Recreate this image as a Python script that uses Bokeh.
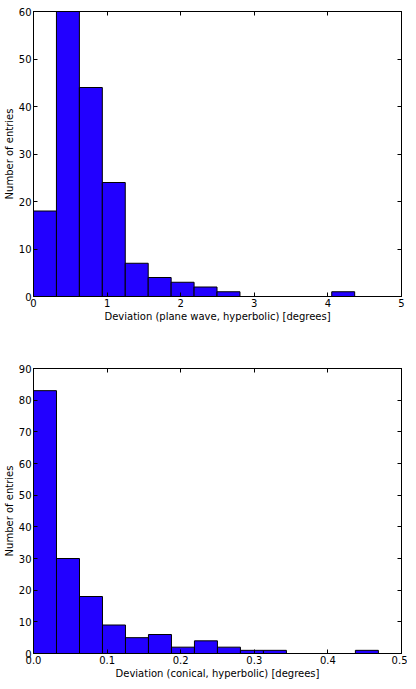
from bokeh.plotting import figure
from bokeh.layouts import column
from bokeh.models import LinearAxis, Range1d, FixedTicker, CustomJSTickFormatter
from bokeh.embed import file_html
from bokeh.resources import INLINE

# Histogram 1: Deviation (plane wave, hyperbolic)
bin_width1 = 0.3117
counts1 = [18, 60, 44, 24, 7, 4, 3, 2, 1, 0, 0, 0, 0, 1]
xticks1 = [0, 1, 2, 3, 4, 5]
yticks1 = [0, 10, 20, 30, 40, 50, 60]

# Histogram 2: Deviation (conical, hyperbolic)
bin_width2 = 0.03124
counts2 = [83, 30, 18, 9, 5, 6, 2, 4, 2, 1, 1, 0, 0, 0, 1]
xticks2 = [0.0, 0.1, 0.2, 0.3, 0.4, 0.5]
yticks2 = [0, 10, 20, 30, 40, 50, 60, 70, 80, 90]

BAR = "#2200ff"
FONT = "DejaVu Sans"


def make(counts, bw, xr, yr, xticks, yticks, xlabel, height, top, xfmt):
    p = figure(width=407, height=height, x_range=Range1d(*xr), y_range=Range1d(*yr),
               output_backend="svg", toolbar_location=None,
               min_border_left=32, min_border_right=6, min_border_top=top,
               min_border_bottom=26, x_axis_location=None, y_axis_location=None)
    p.grid.visible = False
    p.outline_line_color = "black"
    p.outline_line_width = 1
    lefts = [i * bw for i in range(len(counts))]
    rights = [(i + 1) * bw for i in range(len(counts))]
    nz = [i for i, c in enumerate(counts) if c > 0]
    p.quad(left=[lefts[i] for i in nz], right=[rights[i] for i in nz],
           bottom=0, top=[counts[i] for i in nz],
           fill_color=BAR, line_color="black", line_width=1)

    xa = LinearAxis(ticker=FixedTicker(ticks=xticks), axis_label=xlabel)
    ya = LinearAxis(ticker=FixedTicker(ticks=yticks), axis_label="Number of entries")
    for ax in (xa, ya):
        ax.axis_line_color = "black"
        ax.major_tick_in = 4
        ax.major_tick_out = 0
        ax.minor_tick_line_color = None
        ax.major_label_text_font = FONT
        ax.major_label_text_font_size = "10px"
        ax.major_label_text_color = "black"
        ax.axis_label_text_font = FONT
        ax.axis_label_text_font_size = "10px"
        ax.axis_label_text_font_style = "normal"
        ax.axis_label_text_color = "black"
        ax.major_label_standoff = 2
        ax.axis_label_standoff = 1
    if xfmt:
        xa.formatter = CustomJSTickFormatter(code="return tick.toFixed(1);")
    p.add_layout(xa, "below")
    p.add_layout(ya, "left")

    xa2 = LinearAxis(ticker=FixedTicker(ticks=xticks))
    ya2 = LinearAxis(ticker=FixedTicker(ticks=yticks))
    for ax in (xa2, ya2):
        ax.formatter = CustomJSTickFormatter(code="return '';")
        ax.major_label_standoff = 0
        ax.major_tick_in = 4
        ax.major_tick_out = 0
        ax.minor_tick_line_color = None
        ax.axis_line_color = "black"
    p.add_layout(xa2, "above")
    p.add_layout(ya2, "right")
    return p


p1 = make(counts1, bin_width1, (0, 5), (0, 60), xticks1, yticks1,
          "Deviation (plane wave, hyperbolic) [degrees]", 324, 11, False)
p2 = make(counts2, bin_width2, (0, 0.5), (0, 90), xticks2, yticks2,
          "Deviation (conical, hyperbolic) [degrees]", 357, 44, True)

p = column(p1, p2, spacing=0)
open("out.html", "w").write(file_html(p, INLINE))
